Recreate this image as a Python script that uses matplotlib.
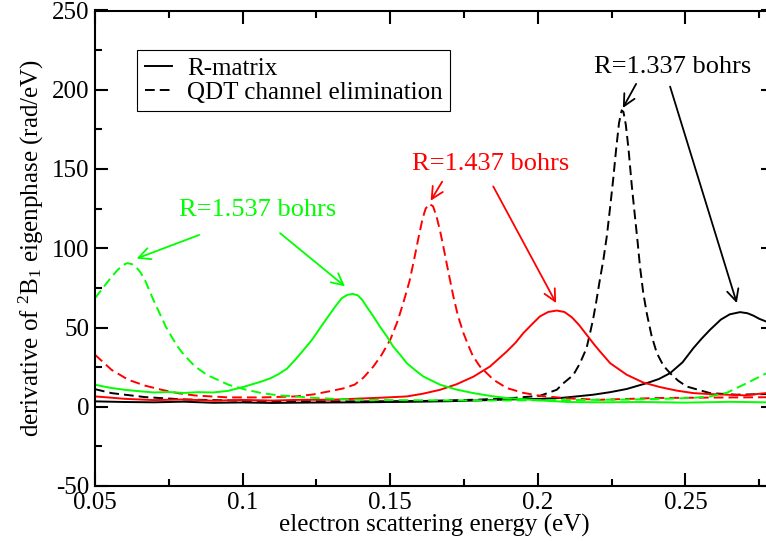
import numpy as np
import matplotlib
matplotlib.use("Agg")
import matplotlib.pyplot as plt
from matplotlib.ticker import MultipleLocator, FuncFormatter

plt.rcParams['font.family'] = ['Liberation Serif', 'DejaVu Serif']
plt.rcParams['mathtext.fontset'] = 'custom'
plt.rcParams['mathtext.rm'] = 'Liberation Serif'
plt.rcParams['mathtext.it'] = 'Liberation Serif:italic'

# R = 1.537 bohrs
g_qdt_e = [0.050, 0.0525, 0.055, 0.0575, 0.0595, 0.061, 0.0625, 0.064, 0.0655, 0.067, 0.0685,
           0.070, 0.072, 0.074, 0.076, 0.078, 0.080, 0.0839, 0.088, 0.0952, 0.101, 0.1065,
           0.112, 0.1178, 0.125, 0.138, 0.150, 0.170, 0.190, 0.210, 0.230, 0.242, 0.2526,
           0.2583, 0.264, 0.2708, 0.2773]
g_qdt_v = [68.5, 74.5, 80.5, 86.0, 89.5, 90.6, 90.0, 88.0, 84.5, 79.5, 73.0,
           66.5, 58.5, 50.5, 44.0, 38.0, 33.0, 25.4, 20.0, 13.9, 10.8, 8.6,
           7.2, 6.5, 5.5, 4.4, 4.2, 4.0, 4.0, 4.2, 4.5, 5.0, 5.6,
           6.5, 8.8, 14.9, 21.0]

g_rm_e = [0.050, 0.055, 0.060, 0.065, 0.070, 0.075, 0.080, 0.085, 0.090, 0.095, 0.1008,
          0.1065, 0.1095, 0.1121, 0.115, 0.1178, 0.1205, 0.1234, 0.126, 0.129, 0.1315,
          0.1336, 0.1355, 0.1373, 0.139, 0.1405, 0.142, 0.1443, 0.1465, 0.149, 0.151,
          0.1535, 0.1556, 0.1585, 0.1612, 0.1669, 0.1725, 0.1782, 0.184, 0.1895, 0.2007,
          0.210, 0.221, 0.235, 0.250, 0.265, 0.2773]
g_rm_v = [13.9, 12.0, 10.7, 9.8, 9.0, 9.3, 8.7, 9.2, 9.0, 10.0, 12.8,
          16.0, 18.0, 20.5, 24.0, 29.6, 35.5, 42.0, 49.0, 57.0, 63.5,
          68.5, 70.6, 71.2, 70.3, 67.5, 63.2, 57.0, 50.6, 44.0, 38.0,
          32.5, 27.5, 23.0, 19.1, 13.9, 10.8, 8.6, 6.8, 5.5, 4.0,
          3.0, 2.8, 3.0, 2.6, 3.1, 2.8]

# R = 1.437 bohrs
r_qdt_e = [0.050, 0.0556, 0.0613, 0.067, 0.0726, 0.078, 0.0839, 0.0952, 0.1065, 0.1178,
           0.124, 0.129, 0.134, 0.138, 0.141, 0.1443, 0.147, 0.150, 0.1525, 0.1545, 0.1565,
           0.158, 0.1595, 0.161, 0.162, 0.1632, 0.1645, 0.1657, 0.167, 0.168, 0.1697,
           0.1714, 0.173, 0.1748, 0.1765, 0.178, 0.1804, 0.185, 0.1895, 0.195, 0.2007,
           0.210, 0.221, 0.240, 0.260, 0.2773]
r_qdt_v = [32.8, 23.3, 17.0, 13.3, 10.7, 8.6, 7.1, 5.9, 5.9, 6.5,
           7.8, 9.6, 11.5, 14.0, 18.5, 25.4, 32.5, 42.2, 54.0, 66.0, 79.0,
           92.0, 106.0, 119.0, 125.0, 128.0, 126.5, 120.0, 110.0, 101.0, 85.0,
           69.5, 57.0, 46.5, 38.5, 32.0, 25.4, 17.0, 11.8, 8.8, 6.9,
           5.3, 4.4, 5.5, 5.8, 6.0]

r_rm_e = [0.050, 0.055, 0.060, 0.070, 0.080, 0.090, 0.100, 0.110, 0.120, 0.130, 0.140,
          0.148, 0.1556, 0.161, 0.1669, 0.1725, 0.1782, 0.1838, 0.1895, 0.1925, 0.1951,
          0.198, 0.2007, 0.2035, 0.2064, 0.209, 0.2115, 0.214, 0.2165, 0.219, 0.221,
          0.2245, 0.2301, 0.2357, 0.2414, 0.247, 0.2527, 0.2583, 0.264, 0.270, 0.2773]
r_rm_v = [6.5, 5.8, 5.0, 4.2, 4.6, 3.8, 4.3, 3.9, 4.4, 4.4, 5.2,
          5.8, 6.5, 8.2, 10.7, 14.2, 19.0, 25.4, 34.9, 40.5, 46.5,
          52.0, 57.0, 59.8, 60.7, 59.8, 56.5, 51.5, 45.5, 39.5, 35.0,
          27.5, 20.2, 15.3, 12.4, 10.2, 8.6, 8.0, 7.6, 7.2, 8.6]

# R = 1.337 bohrs
k_qdt_e = [0.050, 0.0556, 0.0669, 0.080, 0.100, 0.120, 0.140, 0.160, 0.180, 0.190,
           0.2007, 0.2064, 0.2087, 0.212, 0.2143, 0.2165, 0.2177, 0.2188, 0.2199, 0.221,
           0.2222, 0.2234, 0.2245, 0.2255, 0.2265, 0.2275, 0.2284, 0.229, 0.2298, 0.2307,
           0.2318, 0.2329, 0.2338, 0.2346, 0.2357, 0.2369, 0.2385, 0.2403, 0.2425, 0.2448,
           0.2475, 0.2504, 0.2583, 0.2674, 0.2773]
k_qdt_v = [11.1, 8.6, 6.1, 4.6, 3.8, 3.5, 3.4, 3.6, 4.5, 5.3,
           6.9, 10.7, 14.9, 20.0, 27.5, 37.0, 46.5, 56.0, 67.5, 80.0,
           92.7, 108.0, 126.0, 143.0, 162.0, 179.0, 187.0, 186.0, 178.0, 163.0,
           140.0, 120.0, 104.0, 88.5, 72.0, 59.0, 45.0, 33.9, 26.0, 21.2,
           16.5, 12.8, 8.6, 7.6, 8.0]

k_rm_e = [0.050, 0.060, 0.070, 0.080, 0.090, 0.100, 0.110, 0.120, 0.130, 0.140, 0.150,
          0.160, 0.170, 0.180, 0.190, 0.2007, 0.2075, 0.213, 0.2188, 0.2245, 0.2301,
          0.2369, 0.241, 0.2448, 0.249, 0.2527, 0.2555, 0.2583, 0.262, 0.265, 0.2685,
          0.271, 0.273, 0.275, 0.2773]
k_rm_v = [3.4, 3.0, 2.8, 3.2, 2.5, 2.7, 2.4, 2.6, 2.7, 2.8, 3.0,
          3.2, 3.5, 4.0, 4.6, 5.0, 5.5, 6.5, 7.6, 9.2, 11.2,
          14.9, 17.5, 21.2, 28.0, 37.0, 43.0, 48.5, 55.0, 58.3, 59.7,
          59.0, 57.5, 55.5, 53.8]

green = '#00ff00'
red = '#ff0000'

fig = plt.figure(figsize=(7.66, 5.42), dpi=100)
ax = fig.add_axes([95 / 766, 1 - 486 / 542, 679 / 766, 475.5 / 542])

lw = 1.4
dash = [5, 2.6]
ax.plot(k_rm_e, k_rm_v, color='black', lw=lw, label='R-matrix')
ax.plot(k_qdt_e, k_qdt_v, color='black', lw=lw, dashes=dash, label='QDT channel elimination')
ax.plot(r_rm_e, r_rm_v, color=red, lw=lw)
ax.plot(r_qdt_e, r_qdt_v, color=red, lw=lw, dashes=dash)
ax.plot(g_rm_e, g_rm_v, color=green, lw=lw)
ax.plot(g_qdt_e, g_qdt_v, color=green, lw=lw, dashes=dash)

ax.set_xlim(0.05, 0.28)
ax.set_ylim(-50, 250)
ax.xaxis.set_major_locator(MultipleLocator(0.05))
ax.xaxis.set_minor_locator(MultipleLocator(0.025))
ax.yaxis.set_major_locator(MultipleLocator(50))
ax.yaxis.set_minor_locator(MultipleLocator(25))
ax.xaxis.set_major_formatter(FuncFormatter(lambda v, p: ('%.2f' % v).rstrip('0')))
ax.yaxis.set_major_formatter(FuncFormatter(lambda v, p: '%d' % round(v)))
ax.tick_params(which='both', direction='in', top=True, right=True, labelsize=18, width=1.5)
ax.tick_params(which='major', length=9.5, pad=4)
ax.tick_params(which='minor', length=5)
for s in ax.spines.values():
    s.set_linewidth(1.5)

ax.set_xlabel('electron scattering energy (eV)', fontsize=18, labelpad=0)
ax.set_ylabel(r'derivative of $^{2}$B$_{1}$ eigenphase (rad/eV)', fontsize=18, labelpad=4)

leg = ax.legend(loc='upper left', bbox_to_anchor=(0.062, 0.917), borderaxespad=0,
                fontsize=18, handlelength=1.1, handletextpad=0.6, labelspacing=0.05,
                borderpad=0.3, fancybox=False, framealpha=1)
leg.get_frame().set_edgecolor('black')
leg.get_frame().set_linewidth(0.8)

arrow = '->,head_length=0.7,head_width=0.35'


def label_arrows(text, pos, color, arrows):
    ax.text(pos[0], pos[1], text, color=color, fontsize=19, ha='center', va='center')
    for start, tip in arrows:
        ax.annotate('', xy=tip, xytext=start,
                    arrowprops=dict(arrowstyle=arrow, color=color, lw=1.3,
                                    shrinkA=0, shrinkB=0, mutation_scale=12))


label_arrows('R=1.537 bohrs', (0.1052, 124.0), green,
             [((0.0853, 108.4), (0.0641, 93.5)), ((0.1127, 109.5), (0.1347, 75.9))])
label_arrows('R=1.437 bohrs', (0.1841, 153.0), red,
             [((0.1676, 142.0), (0.1637, 130.0)), ((0.1849, 139.0), (0.2062, 65.4))])
label_arrows('R=1.337 bohrs', (0.2458, 214.5), 'black',
             [((0.2333, 203.7), (0.2288, 188.5)), ((0.2448, 202.0), (0.2674, 65.4))])

fig.savefig('out.png', dpi=100)
